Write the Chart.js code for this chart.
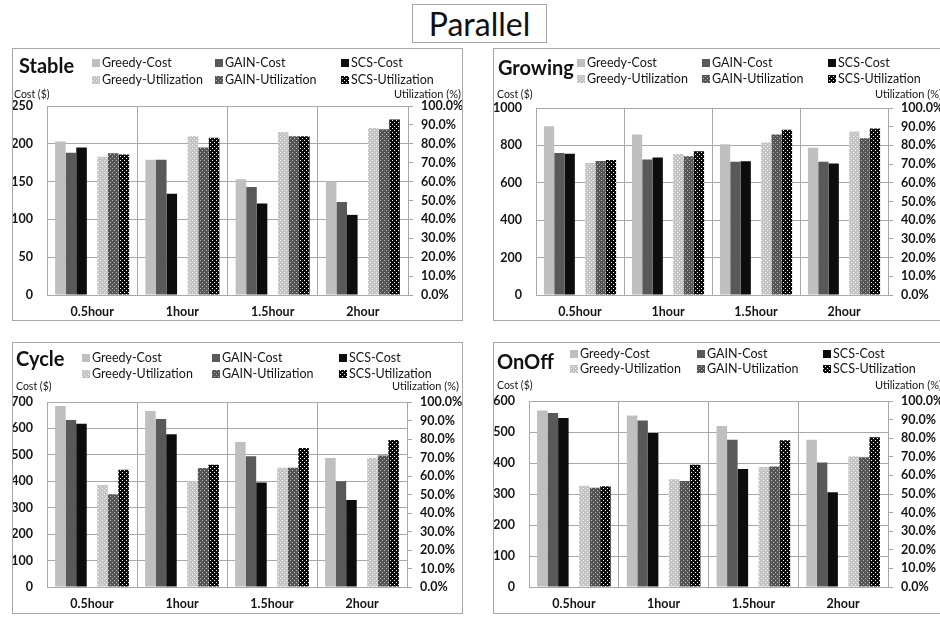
<!DOCTYPE html>
<html>
<head>
<meta charset="utf-8">
<script src="https://cdn.jsdelivr.net/npm/chart.js@4.4.0/dist/chart.umd.min.js"></script>
<style>
  html, body { margin: 0; padding: 0; background: #fff; width: 940px; height: 617px; overflow: hidden; }
  #title {
    position: absolute; left: 412px; top: 4px; width: 135px; height: 39px;
    box-sizing: border-box; border: 1px solid #a6a6a6;
    font: 32px Lato, sans-serif; color: #111; text-align: center; line-height: 37px;
  }
  .panel { position: absolute; }
  .panel canvas { display: block; }
</style>
</head>
<body>
<div id="title">Parallel</div>
<div class="panel" style="left:12px;top:48px"><canvas id="stable" width="451" height="273"></canvas></div>
<div class="panel" style="left:493px;top:48px"><canvas id="growing" width="451" height="273"></canvas></div>
<div class="panel" style="left:12px;top:342px"><canvas id="cycle" width="451" height="272"></canvas></div>
<div class="panel" style="left:493px;top:342px"><canvas id="onoff" width="451" height="272"></canvas></div>
<script>
// Time windows on the x axis
const categories = ['0.5hour', '1hour', '1.5hour', '2hour'];

// Stable workload: cost ($) and utilization (%)
const stableGreedyCost = [203, 179, 153, 150];
const stableGainCost   = [188, 179, 143, 123];
const stableScsCost    = [195, 134, 121, 106];
const stableGreedyUtil = [73.2, 84.0, 86.2, 88.4];
const stableGainUtil   = [75.0, 78.1, 84.0, 87.7];
const stableScsUtil    = [74.4, 83.2, 84.0, 92.9];

// Growing workload
const growingGreedyCost = [902, 858, 806, 788];
const growingGainCost   = [760, 724, 712, 712];
const growingScsCost    = [756, 735, 715, 703];
const growingGreedyUtil = [70.6, 75.4, 81.5, 87.4];
const growingGainUtil   = [71.7, 74.2, 85.8, 83.8];
const growingScsUtil    = [72.2, 76.9, 88.4, 89.1];

// Cycle workload
const cycleGreedyCost = [685, 666, 549, 488];
const cycleGainCost   = [632, 636, 495, 400];
const cycleScsCost    = [618, 578, 395, 329];
const cycleGreedyUtil = [55.1, 57.3, 64.5, 69.7];
const cycleGainUtil   = [50.1, 64.3, 64.5, 71.1];
const cycleScsUtil    = [63.4, 66.1, 75.2, 79.5];

// OnOff workload
const onoffGreedyCost = [569, 553, 519, 475];
const onoffGainCost   = [561, 537, 475, 402];
const onoffScsCost    = [545, 497, 381, 306];
const onoffGreedyUtil = [54.5, 57.9, 64.5, 70.2];
const onoffGainUtil   = [53.4, 57.0, 64.8, 69.8];
const onoffScsUtil    = [54.1, 65.7, 78.9, 80.5];

// Axis tick values
const stableCostTicks  = [0, 50, 100, 150, 200, 250];
const growingCostTicks = [0, 200, 400, 600, 800, 1000];
const cycleCostTicks   = [0, 100, 200, 300, 400, 500, 600, 700];
const onoffCostTicks   = [0, 100, 200, 300, 400, 500, 600];
const utilTicks        = [0, 10, 20, 30, 40, 50, 60, 70, 80, 90, 100];

const FONT = 'Lato, sans-serif';
const GRID = '#a8a8a8';
const INK = '#141414';

// Dotted fills for the utilization bars
function dotPattern(base, dot) {
  const c = document.createElement('canvas');
  c.width = 4; c.height = 4;
  const g = c.getContext('2d');
  g.fillStyle = base; g.fillRect(0, 0, 4, 4);
  g.fillStyle = dot;
  g.fillRect(0, 0, 1, 1);
  g.fillRect(2, 2, 1, 1);
  return g.createPattern(c, 'repeat');
}
const greedyUtilFill = dotPattern('#c4c4c4', '#f4f4f4');
const gainUtilFill   = dotPattern('#555555', '#b8b8b8');
const scsUtilFill    = dotPattern('#0a0a0a', '#ffffff');

// Frame, panel title, two-row legend and axis captions
const panelDecor = {
  id: 'panelDecor',
  afterDraw(chart, args, opts) {
    const L = opts.layout;
    const ctx = chart.ctx;
    ctx.save();
    ctx.strokeStyle = GRID; ctx.lineWidth = 1;
    ctx.strokeRect(0.5, 0.5, chart.width - 1, chart.height - 1);

    ctx.textAlign = 'left'; ctx.textBaseline = 'alphabetic';
    ctx.fillStyle = '#111';
    ctx.font = 'bold 20px ' + FONT;
    ctx.fillText(L.title, L.titleX, L.titleY);

    ctx.font = '12.5px ' + FONT;
    chart.data.datasets.filter(d => d.label).forEach((d, i) => {
      const x = L.legendX[i % 3], y = L.legendY[Math.floor(i / 3)];
      ctx.fillStyle = d.backgroundColor;
      ctx.fillRect(x, y - 8, 8, 8);
      ctx.fillStyle = INK;
      ctx.fillText(d.label, x + 10, y);
    });

    ctx.font = '10.5px ' + FONT;
    ctx.fillText('Cost ($)', L.capX, L.capY);
    ctx.textAlign = 'right';
    ctx.font = '11px ' + FONT;
    ctx.fillText('Utilization (%)', L.utilX, L.capY);
    ctx.restore();
  }
};

function makeChart(id, L, cost, util, costTicks) {
  const canvas = document.getElementById(id);
  const W = canvas.width, H = canvas.height;
  const tickFont = { family: FONT, size: 12.5, weight: 'bold' };
  return new Chart(canvas, {
    type: 'bar',
    data: {
      labels: categories,
      datasets: [
        { label: 'Greedy-Cost', data: cost[0], backgroundColor: '#bfbfbf', yAxisID: 'y' },
        { label: 'GAIN-Cost',   data: cost[1], backgroundColor: '#595959', yAxisID: 'y' },
        { label: 'SCS-Cost',    data: cost[2], backgroundColor: '#0d0d0d', yAxisID: 'y' },
        { label: '', data: categories.map(() => null), yAxisID: 'y' },
        { label: 'Greedy-Utilization', data: util[0], backgroundColor: greedyUtilFill, yAxisID: 'y1' },
        { label: 'GAIN-Utilization',   data: util[1], backgroundColor: gainUtilFill,   yAxisID: 'y1' },
        { label: 'SCS-Utilization',    data: util[2], backgroundColor: scsUtilFill,    yAxisID: 'y1' }
      ]
    },
    options: {
      responsive: false,
      animation: false,
      events: [],
      categoryPercentage: 0.82,
      barPercentage: 1.0,
      layout: { padding: { top: L.area.top, left: 0, right: 0, bottom: 0 } },
      plugins: {
        legend: { display: false },
        tooltip: { enabled: false },
        panelDecor: { layout: L }
      },
      scales: {
        x: {
          grid: { display: true, offset: true, color: GRID, drawTicks: false },
          border: { display: true, color: GRID },
          ticks: { font: tickFont, color: INK, padding: 9, maxRotation: 0 },
          afterFit: s => { s.height = H - L.area.bottom; }
        },
        y: {
          position: 'left',
          min: 0, max: costTicks[costTicks.length - 1],
          afterBuildTicks: s => { s.ticks = costTicks.map(v => ({ value: v })); },
          grid: { color: GRID, drawTicks: false },
          border: { display: true, color: GRID },
          ticks: { font: tickFont, color: INK, padding: 14, callback: v => String(v) },
          afterFit: s => { s.width = L.area.left; }
        },
        y1: {
          position: 'right',
          min: 0, max: 100,
          afterBuildTicks: s => { s.ticks = utilTicks.map(v => ({ value: v })); },
          grid: { drawOnChartArea: false, drawTicks: true, tickLength: 5, color: GRID },
          border: { display: true, color: GRID },
          ticks: { font: tickFont, color: INK, padding: 8, callback: v => v.toFixed(1) + '%' },
          afterFit: s => { s.width = W - L.area.right; }
        }
      }
    },
    plugins: [panelDecor]
  });
}

makeChart('stable',
  { title: 'Stable', titleX: 7, titleY: 25, legendX: [80, 203, 329], legendY: [19, 36],
    capX: 2, capY: 50, utilX: 449, area: { left: 35, right: 396, top: 58, bottom: 247 } },
  [stableGreedyCost, stableGainCost, stableScsCost],
  [stableGreedyUtil, stableGainUtil, stableScsUtil], stableCostTicks);

makeChart('growing',
  { title: 'Growing', titleX: 5, titleY: 27, legendX: [84, 209, 335], legendY: [19, 35],
    capX: 4, capY: 50, utilX: 449, area: { left: 43, right: 395, top: 60, bottom: 247 } },
  [growingGreedyCost, growingGainCost, growingScsCost],
  [growingGreedyUtil, growingGainUtil, growingScsUtil], growingCostTicks);

makeChart('cycle',
  { title: 'Cycle', titleX: 4, titleY: 24, legendX: [70, 200, 327], legendY: [20, 36],
    capX: 4, capY: 48, utilX: 447, area: { left: 35, right: 395, top: 60, bottom: 245 } },
  [cycleGreedyCost, cycleGainCost, cycleScsCost],
  [cycleGreedyUtil, cycleGainUtil, cycleScsUtil], cycleCostTicks);

makeChart('onoff',
  { title: 'OnOff', titleX: 4, titleY: 27, legendX: [77, 204, 330], legendY: [16, 31],
    capX: 4, capY: 47, utilX: 449, area: { left: 36, right: 395, top: 59, bottom: 245 } },
  [onoffGreedyCost, onoffGainCost, onoffScsCost],
  [onoffGreedyUtil, onoffGainUtil, onoffScsUtil], onoffCostTicks);
</script>
</body>
</html>
